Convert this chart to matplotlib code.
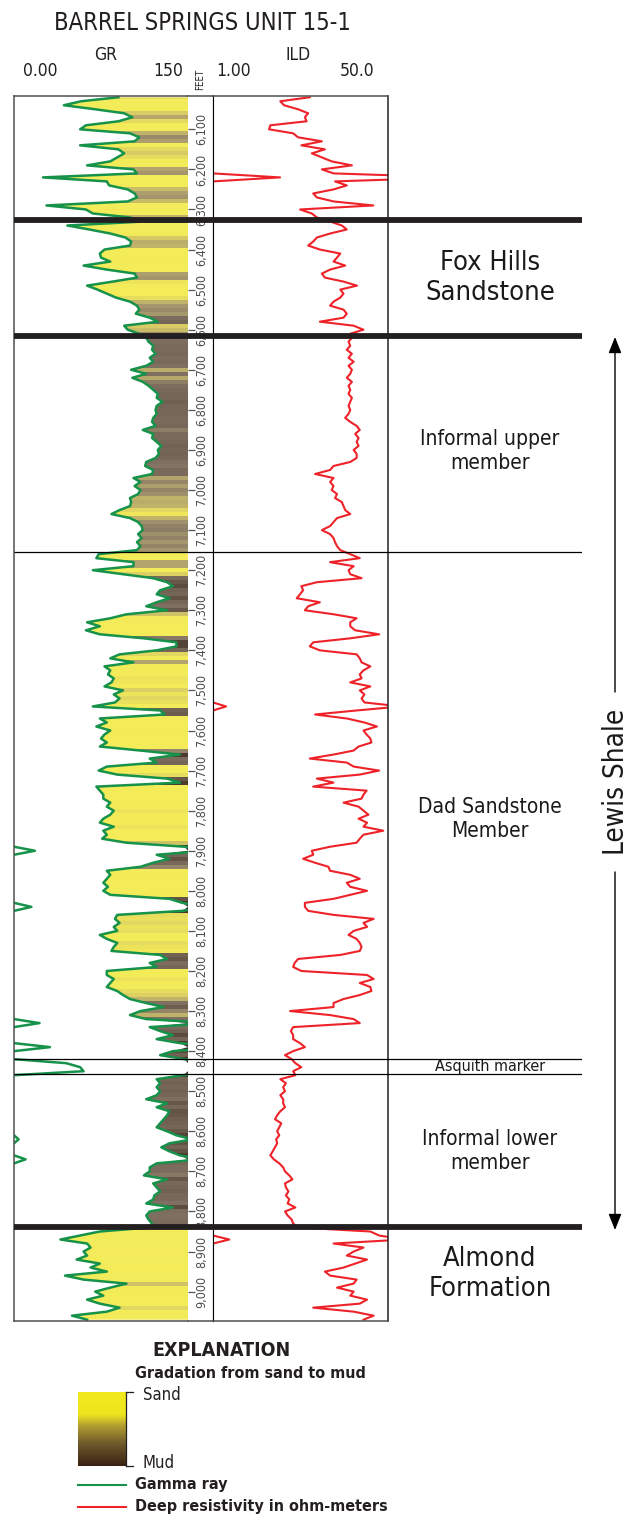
import numpy as np
import matplotlib.pyplot as plt
from matplotlib import font_manager
from matplotlib.colors import LinearSegmentedColormap
from matplotlib.lines import Line2D
from matplotlib.ticker import NullLocator
import matplotlib.transforms as mtransforms

# ---- data (10 ft samples, 6020-9070 ft) ----
depth = np.arange(6020, 9071, 10)

gr = [90, 58, 43, 70, 95, 102, 90, 62,
      57, 100, 108, 104, 57, 90, 95, 89, 83, 63,
      103, 106, 25, 80, 82, 98, 104, 106, 98, 28,
      62, 68, 100, 112, 46, 65, 83, 96, 101, 100,
      78, 74, 75, 83, 60, 80, 104, 106, 85, 63,
      72, 80, 88, 100, 106, 108, 105, 117, 124, 95,
      98, 108, 114, 116, 120, 119, 122, 117, 120, 114,
      101, 114, 102, 111, 116, 120, 124, 123, 128, 123,
      122, 123, 120, 119, 122, 111, 120, 119, 123, 127,
      124, 125, 122, 114, 113, 120, 119, 103, 109, 104,
      109, 107, 100, 101, 100, 91, 84, 100, 107, 110,
      111, 107, 110, 106, 109, 106, 73, 71, 103, 103,
      68, 94, 120, 132, 137, 126, 123, 134, 123, 114,
      132, 97, 83, 63, 74, 62, 74, 112, 140, 140,
      123, 91, 83, 103, 78, 83, 81, 86, 84, 78,
      94, 86, 91, 87, 68, 126, 130, 74, 80, 71,
      83, 78, 75, 80, 74, 109, 143, 117, 123, 80,
      73, 89, 132, 143, 71, 74, 77, 77, 83, 80,
      86, 83, 77, 74, 86, 77, 80, 76, 97, 147,
      168, 123, 134, 120, 109, 80, 83, 80, 77, 81,
      77, 83, 134, 145, 165, 145, 89, 87, 91, 86,
      89, 74, 80, 89, 86, 84, 126, 132, 117, 123,
      80, 80, 86, 83, 80, 89, 94, 100, 114, 129,
      109, 100, 114, 172, 117, 126, 137, 123, 143, 181,
      137, 126, 147, 195, 207, 210, 146, 123, 126, 123,
      126, 123, 114, 132, 123, 134, 132, 129, 126, 123,
      132, 140, 154, 134, 127, 134, 143, 160, 123, 117,
      117, 112, 132, 120, 123, 126, 121, 120, 114, 137,
      117, 114, 116, 119, 117, 74, 57, 40, 63, 66,
      60, 63, 54, 74, 66, 80, 44, 60, 97, 83,
      70, 77, 63, 74, 91, 80, 50, 63]

ild = [8.7, 4.5, 4.9, 6.7, 8.4, 7.8, 8.1, 3.6,
       3.5, 6.0, 6.7, 11.4, 7.2, 12.2, 9.1, 11.4, 14.2, 22.3,
       11.4, 14.8, 224, 15.3, 19.9, 14.8, 9.4, 10.2, 14.8, 36,
       7.0, 9.1, 10.2, 13.7, 17.8, 19.9, 13.7, 10.2, 9.4, 8.4,
       10.9, 17.2, 16, 14.8, 19.2, 13.7, 11.4, 12.2, 18.5, 25,
       17.2, 18.5, 17.2, 14.8, 13.7, 18.5, 19.9, 18.5, 10.9, 23.2,
       28.9, 21.5, 22.3, 20.7, 21.5, 19.9, 22.3, 20.7, 23.2, 20.7,
       22.3, 21.5, 19.9, 22.3, 20.7, 21.5, 20.7, 22.3, 21.5, 20.7,
       21.5, 20.7, 19.2, 21.5, 24.8, 26.6, 24, 25.9, 24.8, 25.9,
       23.2, 24.8, 24.8, 21.5, 14.8, 13.7, 9.8, 14.8, 13.7, 14.8,
       14.2, 16, 15.3, 17.8, 18.5, 19.2, 21.5, 16, 14.8, 13.7,
       11.4, 13.7, 14.8, 15.3, 16, 17.2, 21.5, 26.6, 13.7, 23.2,
       20.7, 21.5, 27.7, 10.2, 7.2, 7.5, 7.0, 6.5, 10.9, 8.4,
       7.8, 14.8, 24.8, 21.5, 21.5, 24, 41, 21.5, 9.4, 8.7,
       10.9, 24.8, 26.6, 27.7, 33.7, 28.9, 26.6, 27.7, 21.5, 33.7,
       26.6, 29.5, 27.7, 29.5, 67, 24.8, 9.8, 19.9, 29.5, 39,
       28.9, 31, 33.7, 34.5, 25.9, 23.2, 14.8, 8.7, 19.9, 23.2,
       41, 26.6, 10.2, 14.8, 9.4, 31, 28.9, 27.7, 18.5, 25.9,
       28.9, 32.3, 25.9, 31.3, 28.9, 45, 28.9, 26.6, 24.8, 13.7,
       9.1, 9.4, 7.5, 9.8, 13.2, 13.7, 21.5, 26.6, 19.9, 21.5,
       31.3, 21.5, 14.8, 7.8, 7.8, 8.4, 14.8, 36.3, 28.9, 31.3,
       23.2, 20.7, 24.8, 26.6, 27.7, 26.6, 17.2, 6.7, 6.2, 6.0,
       7.2, 31.3, 36.3, 26.6, 33.7, 34.5, 26.6, 18.5, 14.8, 14.8,
       5.6, 13.7, 23.2, 26.6, 6.0, 5.7, 6.0, 6.0, 7.0, 7.8,
       6.0, 5.0, 5.8, 6.3, 7.2, 6.0, 6.3, 4.5, 5.1, 4.8,
       5.0, 4.5, 4.8, 4.8, 5.0, 4.5, 4.2, 4.0, 4.6, 4.4,
       4.2, 4.4, 4.1, 4.2, 4.0, 3.8, 3.6, 3.9, 4.4, 4.8,
       5.0, 5.5, 5.9, 5.0, 5.1, 5.4, 5.1, 5.5, 5.3, 6.3,
       5.0, 5.3, 5.8, 6.0, 6.7, 33.7, 41, 72, 14.8, 28.9,
       23.2, 19.9, 31.3, 24, 18.5, 12.2, 13.7, 24.8, 23.2, 16,
       23.2, 21.5, 31.3, 26.6, 9.4, 23.2, 36.3, 28.9]

depth_ticks = list(range(6100, 9001, 100))
major_tops = [6326, 6615, 8840]      # heavy lines
minor_tops = [7154, 8420, 8458]      # thin lines
units = [("Fox Hills\nSandstone", 278, 19.5),
         ("Informal upper\nmember", 451, 15),
         ("Dad Sandstone\nMember", 819, 15),
         ("Asquith marker", 1067, 11.5),
         ("Informal lower\nmember", 1151, 15),
         ("Almond\nFormation", 1274, 19.5)]

gr = np.array(gr, dtype=float)
ild = np.array(ild, dtype=float)

# ---- fonts ----
names = {f.name for f in font_manager.fontManager.ttflist}
if 'Liberation Sans Narrow' in names:
    plt.rcParams['font.family'] = ['Liberation Sans Narrow', 'DejaVu Sans']
else:
    plt.rcParams['font.family'] = ['DejaVu Sans']
    plt.rcParams['font.stretch'] = 'condensed'

W, H = 634, 1517
fig = plt.figure(figsize=(W / 100, H / 100), dpi=100)


def fx(px):
    return px / W


def fy(py):
    return 1 - py / H


TOP_PX, BOT_PX = 96, 1321
d_top, d_bot = 6016.9, 9073.3
bot = fy(BOT_PX)
hgt = (BOT_PX - TOP_PX) / H
green = '#17924a'
red = '#ee2229'
frame = '#505050'

ax_gr = fig.add_axes([fx(14), bot, fx(188) - fx(14), hgt])
ax_dep = fig.add_axes([fx(188), bot, fx(213) - fx(188), hgt])
ax_ild = fig.add_axes([fx(213), bot, fx(388) - fx(213), hgt])

# ---- GR track with sand/mud shading ----
cmap = LinearSegmentedColormap.from_list(
    'sandmud', [(0.0, '#f4ee5e'), (0.55, '#f3eb58'), (0.63, '#dcd064'),
                (0.70, '#a89a6e'), (0.76, '#807062'), (0.86, '#706052'),
                (1.0, '#3c2b1f')])
grc = np.clip(gr, 0, 150)
img = cmap(grc / 150.0).reshape(len(grc), 1, 4)
im = ax_gr.imshow(img, extent=[0, 150, depth[-1] + 5, depth[0] - 5],
                  aspect='auto', interpolation='nearest', origin='upper')
poly = ax_gr.fill_betweenx(depth, grc, 150, facecolor='none', lw=0)
im.set_clip_path(poly.get_paths()[0], transform=ax_gr.transData)

ax_gr.plot(gr, depth, color=green, lw=1.8)
# values beyond 150 wrap back from the left edge
over = gr > 150
edge = (np.roll(over, 1) | np.roll(over, -1)) & ~over
gr_wrap = np.full_like(gr, np.nan)
gr_wrap[over] = gr[over] - 150
gr_wrap[edge] = 0
ax_gr.plot(gr_wrap, depth, color=green, lw=1.8)
ax_gr.set_xlim(0, 150)
ax_gr.set_ylim(d_bot, d_top)
ax_gr.set_xticks([])
ax_gr.set_yticks([])
ax_gr.spines['right'].set_visible(False)
for s in ['left', 'top', 'bottom']:
    ax_gr.spines[s].set_color(frame)
    ax_gr.spines[s].set_linewidth(1.1)

# ---- depth column ----
ax_dep.set_ylim(d_bot, d_top)
ax_dep.set_xlim(0, 1)
ax_dep.set_xticks([])
ax_dep.set_yticks(depth_ticks)
ax_dep.tick_params(axis='y', direction='in', length=5, width=0.9,
                   color='#555555', labelleft=False)
ax_dep.spines['left'].set_visible(False)
ax_dep.spines['right'].set_color('black')
for s in ['top', 'bottom']:
    ax_dep.spines[s].set_color(frame)
    ax_dep.spines[s].set_linewidth(1.1)
trans = mtransforms.blended_transform_factory(ax_dep.transAxes, ax_dep.transData)
for d in depth_ticks:
    ax_dep.text(0.54, d, f'{d:,}', transform=trans, rotation=90,
                ha='center', va='center', fontsize=9, color='#4d4d4d')

# ---- ILD track ----
ax_ild.plot(ild, depth, color=red, lw=1.5)
over_i = ild > 50
edge_i = (np.roll(over_i, 1) | np.roll(over_i, -1)) & ~over_i
ild_wrap = np.full_like(ild, np.nan)
ild_wrap[over_i] = ild[over_i] / 50
ild_wrap[edge_i] = 1
ax_ild.plot(ild_wrap, depth, color=red, lw=1.5)
ax_ild.set_xscale('log')
ax_ild.set_xlim(1, 50)
ax_ild.set_ylim(d_bot, d_top)
ax_ild.xaxis.set_major_locator(NullLocator())
ax_ild.xaxis.set_minor_locator(NullLocator())
ax_ild.set_yticks([])
for s in ['top', 'bottom', 'right']:
    ax_ild.spines[s].set_color(frame)
    ax_ild.spines[s].set_linewidth(1.1)
ax_ild.spines['right'].set_color('#222222')
ax_ild.spines['left'].set_color('black')

# ---- formation boundaries and names ----
ax_ov = fig.add_axes([fx(14), bot, fx(582) - fx(14), hgt], zorder=5)
ax_ov.patch.set_alpha(0)
ax_ov.set_xlim(0, 1)
ax_ov.set_ylim(d_bot, d_top)
ax_ov.axis('off')
ax_ov.hlines(major_tops, 0, 1, color='#231f20', lw=4.2)
ax_ov.hlines(minor_tops, 0, 1, color='black', lw=0.9)

for label, ypx, fs in units:
    fig.text(fx(490), fy(ypx), label, ha='center', va='center',
             fontsize=fs, linespacing=1.25, color='#1a1a1a')

# Lewis Shale bracket
arrow = dict(arrowstyle='-|>,head_length=0.7,head_width=0.28',
             color='black', lw=1.0, mutation_scale=14, shrinkA=0, shrinkB=0)
ax_ov.annotate('', xy=(fx(615), fy(337)), xytext=(fx(615), fy(692)),
               xycoords='figure fraction', textcoords='figure fraction',
               arrowprops=arrow)
ax_ov.annotate('', xy=(fx(615), fy(1230)), xytext=(fx(615), fy(872)),
               xycoords='figure fraction', textcoords='figure fraction',
               arrowprops=arrow)
fig.text(fx(616), fy(782), 'Lewis Shale', rotation=90, ha='center',
         va='center', fontsize=20, color='#1a1a1a')

# ---- header ----
fig.text(fx(202), fy(23), 'BARREL SPRINGS UNIT 15-1', ha='center',
         va='center', fontsize=17, color='#231f20')
fig.text(fx(106), fy(55), 'GR', ha='center', va='center', fontsize=12.5,
         color='#231f20')
fig.text(fx(298), fy(55), 'ILD', ha='center', va='center', fontsize=12.5,
         color='#231f20')
for txt, xp in [('0.00', 40), ('150', 168), ('1.00', 234), ('50.0', 357)]:
    fig.text(fx(xp), fy(71), txt, ha='center', va='center', fontsize=12.5,
             color='#231f20')
fig.text(fx(200), fy(79), 'FEET', rotation=90, ha='center', va='center',
         fontsize=7, color='#231f20')

# ---- explanation ----
fig.text(fx(222), fy(1351), 'EXPLANATION', ha='center', va='center',
         fontsize=14, fontweight='bold', color='#231f20')
fig.text(fx(135), fy(1374), 'Gradation from sand to mud', ha='left',
         va='center', fontsize=11.5, fontweight='bold', color='#231f20')
leg_cmap = LinearSegmentedColormap.from_list(
    'leg', [(0.0, '#3a2313'), (0.3, '#6e5a2c'), (0.55, '#b4a030'),
            (0.7, '#eee41e'), (1.0, '#f2ea1e')])
ax_leg = fig.add_axes([fx(78), fy(1466), fx(126) - fx(78), (1466 - 1392) / H])
ax_leg.imshow(np.linspace(1, 0, 100).reshape(-1, 1), cmap=leg_cmap,
              aspect='auto', extent=[0, 1, 0, 1])
ax_leg.axis('off')
fig.add_artist(Line2D([fx(126), fx(126)], [fy(1392), fy(1466)],
                      transform=fig.transFigure, color='#231f20', lw=0.9))
for yp in (1392, 1466):
    fig.add_artist(Line2D([fx(126), fx(133)], [fy(yp), fy(yp)],
                          transform=fig.transFigure, color='#231f20', lw=0.9))
fig.text(fx(143), fy(1395), 'Sand', ha='left', va='center', fontsize=12,
         color='#231f20')
fig.text(fx(143), fy(1463), 'Mud', ha='left', va='center', fontsize=12,
         color='#231f20')
fig.add_artist(Line2D([fx(78), fx(126)], [fy(1485), fy(1485)],
                      transform=fig.transFigure, color=green, lw=1.5))
fig.add_artist(Line2D([fx(78), fx(126)], [fy(1507), fy(1507)],
                      transform=fig.transFigure, color=red, lw=1.5))
fig.text(fx(135), fy(1485), 'Gamma ray', ha='left', va='center',
         fontsize=11.5, fontweight='bold', color='#231f20')
fig.text(fx(135), fy(1507), 'Deep resistivity in ohm-meters', ha='left',
         va='center', fontsize=11.5, fontweight='bold', color='#231f20')

fig.savefig('out.png', dpi=100)
